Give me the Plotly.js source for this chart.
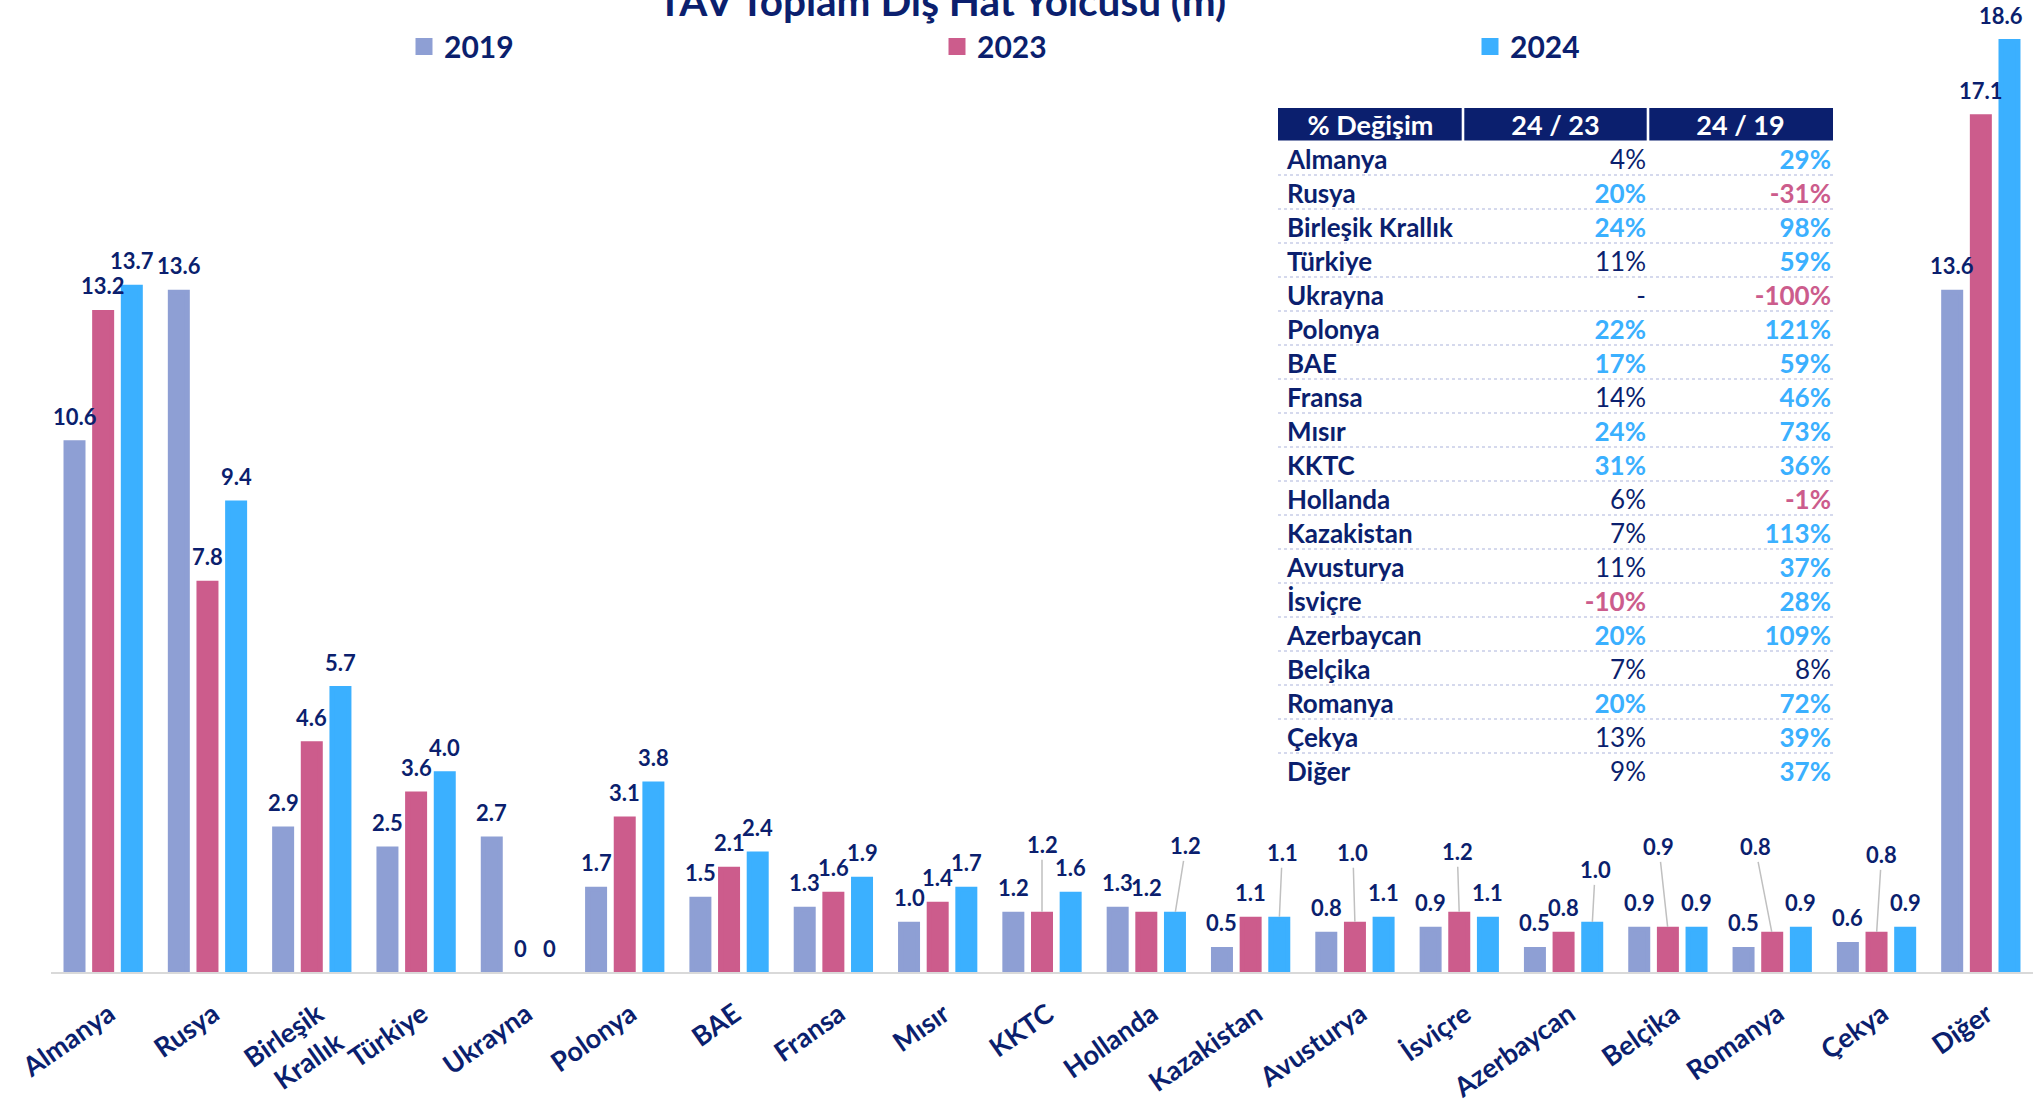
<!DOCTYPE html>
<html>
<head>
<meta charset="utf-8">
<script src="https://cdn.plot.ly/plotly-3.0.1.min.js"></script>
<style>
html,body{margin:0;padding:0;background:#ffffff;}
#chart{width:2033px;height:1105px;}
</style>
</head>
<body>
<div id="chart"></div>
<script>
// ---------------- DATA ----------------
const categories = ["Almanya","Rusya","Birleşik Krallık","Türkiye","Ukrayna","Polonya","BAE","Fransa","Mısır","KKTC","Hollanda","Kazakistan","Avusturya","İsviçre","Azerbaycan","Belçika","Romanya","Çekya","Diğer"];
const tickLabels = ["Almanya","Rusya","Birleşik<br>Krallık","Türkiye","Ukrayna","Polonya","BAE","Fransa","Mısır","KKTC","Hollanda","Kazakistan","Avusturya","İsviçre","Azerbaycan","Belçika","Romanya","Çekya","Diğer"];
const seriesNames = ["2019","2023","2024"];
const pax2019 = [10.6,13.6,2.9,2.5,2.7,1.7,1.5,1.3,1.0,1.2,1.3,0.5,0.8,0.9,0.5,0.9,0.5,0.6,13.6];
const pax2023 = [13.2,7.8,4.6,3.6,0,3.1,2.1,1.6,1.4,1.2,1.2,1.1,1.0,1.2,0.8,0.9,0.8,0.8,17.1];
const pax2024 = [13.7,9.4,5.7,4.0,0,3.8,2.4,1.9,1.7,1.6,1.2,1.1,1.1,1.1,1.0,0.9,0.9,0.9,18.6];

const tableHeader = ["% Değişim","24 / 23","24 / 19"];
const tableRows = ["Almanya","Rusya","Birleşik Krallık","Türkiye","Ukrayna","Polonya","BAE","Fransa","Mısır","KKTC","Hollanda","Kazakistan","Avusturya","İsviçre","Azerbaycan","Belçika","Romanya","Çekya","Diğer"];
const chg2423 = [4,20,24,11,null,22,17,14,24,31,6,7,11,-10,20,7,20,13,9];
const chg2419 = [29,-31,98,59,-100,121,59,46,73,36,-1,113,37,28,109,8,72,39,37];

const titleText = "TAV Toplam Dış Hat Yolcusu (m)";

// ---------------- STYLE / LAYOUT ----------------
const FONT = "Lato, 'Open Sans', sans-serif";
const NAVY = "#0b1f6e";
const colors = ["#8e9fd4", "#cc5c8c", "#3bb0ff"];
const BLUE = colors[2], PINK = colors[1];

const W = 2033, H = 1105;
const margin = {l: 51, r: 0, t: 0, b: 133};
const plotW = W - margin.l - margin.r;
const plotH = H - margin.t - margin.b;
const pxPerUnit = 50.16;
const barEdge = 5;                       // same-colour outline (also enlarges legend squares)
const yMin = (barEdge / 2) / pxPerUnit;  // compensates the outline so visible tops sit at the value
const yMax = yMin + plotH / pxPerUnit;
const bargap = 0.176, bargroupgap = 0.407;
const catPx = plotW / categories.length;
const slotPx = catPx * (1 - bargap) / 3;

// label placement adjustments (pixels): [dx, dy above bar top] for leader-lined labels
const leaders = {
  "KKTC|2023": [0, 67],
  "Hollanda|2024": [11, 66],
  "Kazakistan|2024": [3, 64],
  "Avusturya|2023": [-2, 69],
  "İsviçre|2023": [-2, 60],
  "Azerbaycan|2024": [3, 52],
  "Belçika|2023": [-9, 80],
  "Romanya|2023": [-17, 85],
  "Çekya|2023": [5, 77]
};
const labelNudge = {"Diğer|2024": -8};
const labelLift = 24 + barEdge / 2;

const allSeries = [pax2019, pax2023, pax2024];

const traces = allSeries.map((vals, si) => ({
  type: "bar",
  name: seriesNames[si],
  x: categories,
  y: vals,
  marker: {color: colors[si], line: {width: barEdge, color: colors[si]}},
  hoverinfo: "skip"
}));

function fmt(v){ return v === 0 ? "0" : v.toFixed(1); }

const annotations = [];
allSeries.forEach((vals, si) => {
  vals.forEach((v, i) => {
    const key = categories[i] + "|" + seriesNames[si];
    // keep the anchor inside the axis range (values below yMin would hide the label)
    const yAnchor = Math.max(v, yMin);
    const below = (yAnchor - v) * pxPerUnit;
    const a = {
      x: categories[i], y: yAnchor, xref: "x", yref: "y",
      text: "<b>" + fmt(v) + "</b>",
      font: {family: FONT, size: 22, color: NAVY},
      xshift: (si - 1) * slotPx
    };
    if (leaders[key]) {
      Object.assign(a, {showarrow: true, ax: leaders[key][0], ay: -(leaders[key][1] + barEdge / 2),
        arrowhead: 0, arrowwidth: 1.5, arrowcolor: "#c0c0c0", standoff: barEdge / 2});
    } else {
      Object.assign(a, {showarrow: false, yanchor: "middle", yshift: labelLift - below,
        xshift: a.xshift + (labelNudge[key] || 0)});
    }
    annotations.push(a);
  });
});

// ---------------- TABLE (own axes x2/y2: columns 0..3, rows -1 = header) ----------------
const tbl = {left: 1278, right: 1833, top: 107, rowH: 34};
const nRowsAll = tableRows.length + 1;
const tblBottom = tbl.top + tbl.rowH * nRowsAll;
const colPx = (tbl.right - tbl.left) / 3;
const padLeft = 9 / colPx, padRight = 2 / colPx;
const textDy = 4 / tbl.rowH;
const TFONT = 26;

function pctCell(v){
  if (v === null) return "-";
  const s = v + "%";
  return (v < 0 || v >= 15) ? "<b>" + s + "</b>" : s;
}
function pctColor(v){
  if (v === null) return NAVY;
  if (v < 0) return PINK;
  if (v >= 15) return BLUE;
  return NAVY;
}
const rowIdx = tableRows.map((_, i) => i);
const tableCommon = {type: "scatter", mode: "text", xaxis: "x2", yaxis: "y2",
  showlegend: false, hoverinfo: "skip", cliponaxis: false};

const tableTraces = [
  Object.assign({}, tableCommon, {
    x: tableHeader.map((_, c) => c + 0.5), y: tableHeader.map(() => -1 + textDy),
    text: tableHeader.map(h => "<b>" + h + "</b>"),
    textposition: "middle center",
    textfont: {family: FONT, size: 27, color: "#ffffff"}
  }),
  Object.assign({}, tableCommon, {
    x: rowIdx.map(() => padLeft), y: rowIdx.map(i => i + textDy),
    text: tableRows.map(n => "<b>" + n + "</b>"),
    textposition: "middle right",
    textfont: {family: FONT, size: TFONT, color: NAVY}
  }),
  Object.assign({}, tableCommon, {
    x: rowIdx.map(() => 2 - padRight), y: rowIdx.map(i => i + textDy),
    text: chg2423.map(pctCell),
    textposition: "middle left",
    textfont: {family: FONT, size: TFONT, color: chg2423.map(pctColor)}
  }),
  Object.assign({}, tableCommon, {
    x: rowIdx.map(() => 3 - padRight), y: rowIdx.map(i => i + textDy),
    text: chg2419.map(pctCell),
    textposition: "middle left",
    textfont: {family: FONT, size: TFONT, color: chg2419.map(pctColor)}
  })
];

const shapes = [];
const gapU = 1.3 / colPx;
tableHeader.forEach((_, c) => {
  shapes.push({type: "rect", xref: "x2", yref: "y2",
    x0: c === 0 ? 0 : c + gapU, x1: c === 2 ? 3 : c + 1 - gapU,
    y0: -1.5 + 1 / tbl.rowH, y1: -0.5 - 0.5 / tbl.rowH,
    fillcolor: NAVY, line: {width: 0}, layer: "below"});
});
for (let k = 0; k < tableRows.length - 1; k++) {
  shapes.push({type: "line", xref: "x2", yref: "y2",
    x0: 0, x1: 3, y0: k + 0.5, y1: k + 0.5,
    line: {color: "#c8cde8", width: 1.3, dash: "dot"}, layer: "below"});
}

const layout = {
  width: W, height: H,
  margin: margin,
  paper_bgcolor: "#ffffff",
  plot_bgcolor: "rgba(0,0,0,0)",
  barmode: "group",
  bargap: bargap,
  bargroupgap: bargroupgap,
  title: {
    text: "<b>" + titleText + "</b>",
    xref: "container", yref: "container",
    x: 942 / W, xanchor: "center",
    y: 1 - 16 / H, yanchor: "bottom",
    font: {family: FONT, size: 40.5, color: NAVY}
  },
  showlegend: true,
  legend: {
    orientation: "h",
    x: (404 - margin.l) / plotW, xanchor: "left",
    y: 1 - 46.5 / plotH, yanchor: "middle",
    entrywidth: 488, entrywidthmode: "pixels",
    font: {family: FONT, size: 30, color: NAVY, weight: "bold"},
    bgcolor: "rgba(0,0,0,0)",
    traceorder: "normal"
  },
  xaxis: {
    type: "category",
    range: [-0.5, categories.length - 0.5],
    tickmode: "array",
    tickvals: categories,
    ticktext: tickLabels,
    tickangle: -35,
    tickfont: {family: FONT, size: 27, color: NAVY, weight: "bold"},
    ticks: "",
    ticklabelstandoff: 14,
    ticklabelshift: 6,
    showline: true, linecolor: "#d9d9d9", linewidth: 2,
    showgrid: false, zeroline: false,
    fixedrange: true
  },
  yaxis: {
    range: [yMin, yMax],
    visible: false,
    showgrid: false, zeroline: false,
    fixedrange: true
  },
  xaxis2: {
    domain: [(tbl.left - margin.l) / plotW, (tbl.right - margin.l) / plotW],
    range: [0, 3], anchor: "y2", visible: false, fixedrange: true,
    showgrid: false, zeroline: false
  },
  yaxis2: {
    domain: [1 - (tblBottom - margin.t) / plotH, 1 - (tbl.top - margin.t) / plotH],
    range: [tableRows.length - 0.5, -1.5], anchor: "x2", visible: false, fixedrange: true,
    showgrid: false, zeroline: false
  },
  annotations: annotations,
  shapes: shapes
};

Plotly.newPlot("chart", traces.concat(tableTraces), layout, {displayModeBar: false, staticPlot: true});
</script>
</body>
</html>
